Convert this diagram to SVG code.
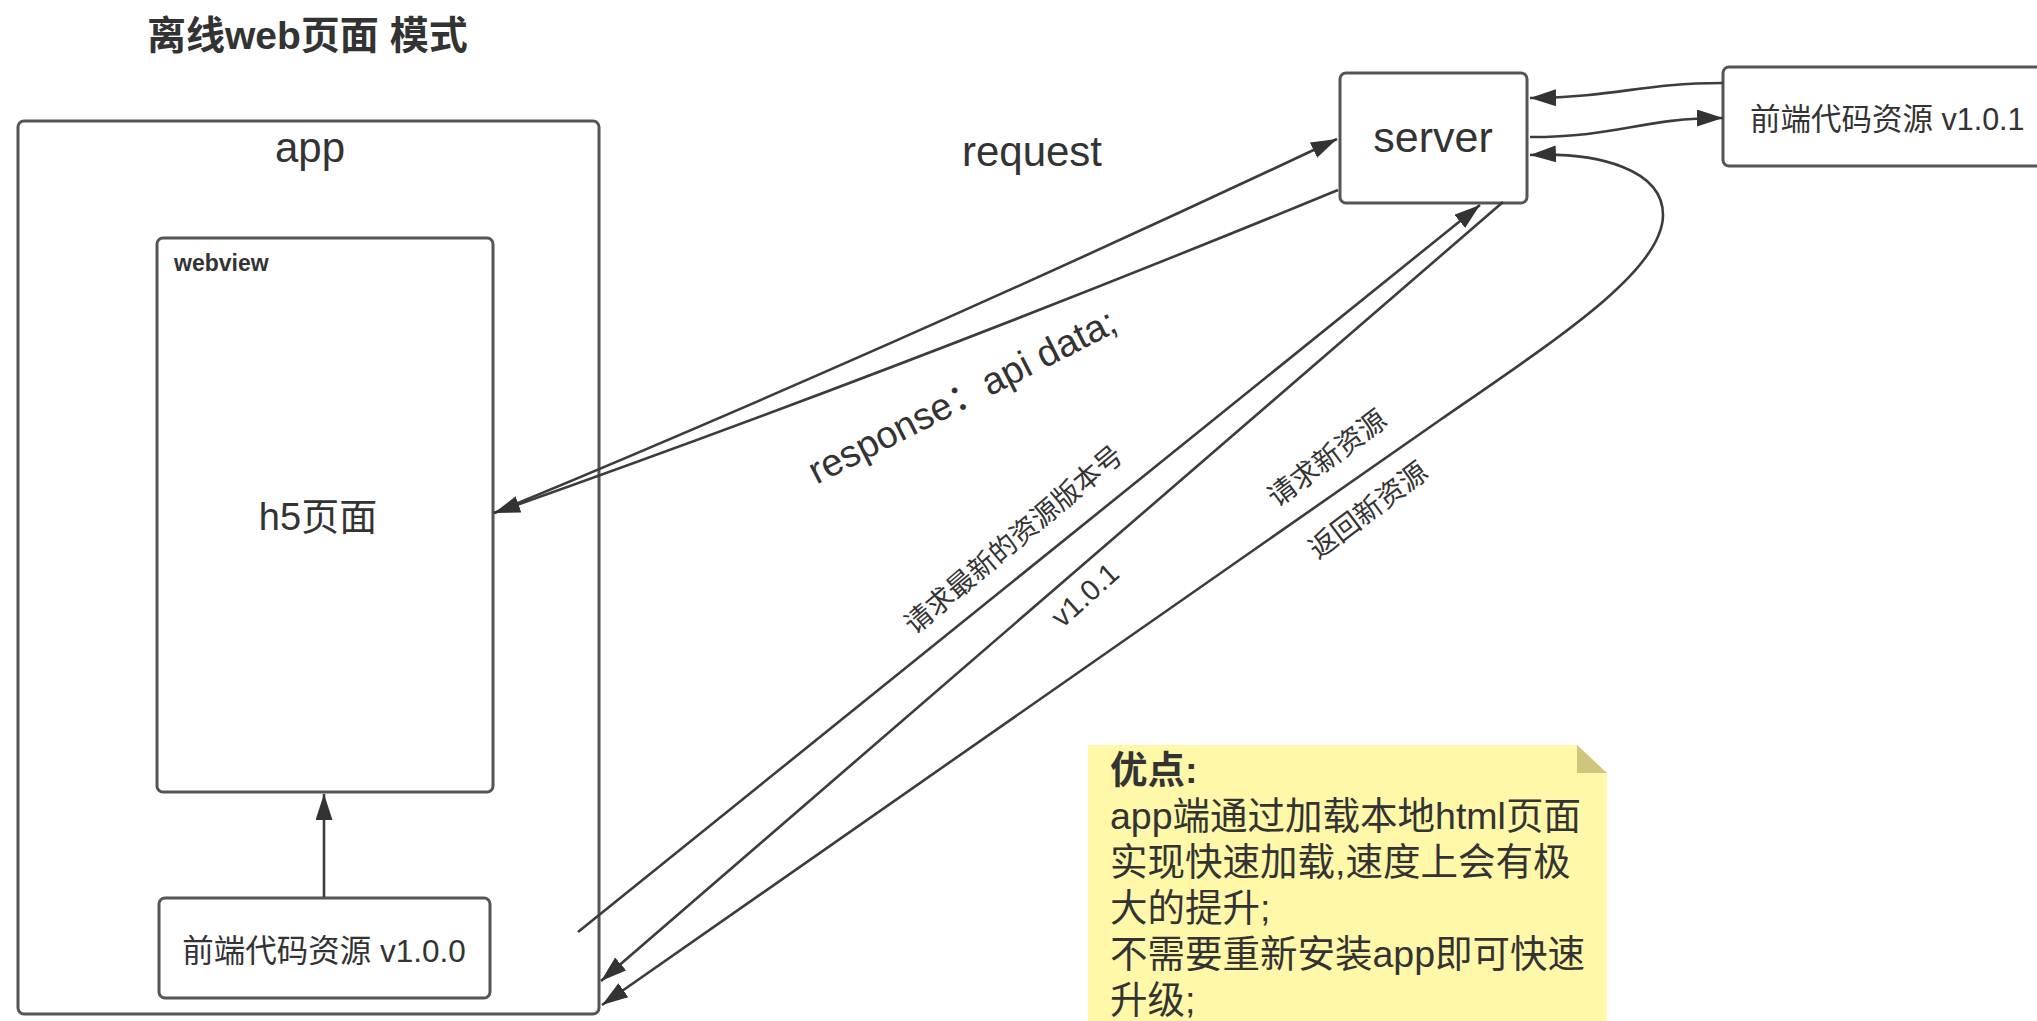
<svg xmlns="http://www.w3.org/2000/svg" width="2037" height="1021" viewBox="0 0 2037 1021">
<style>
  .box { fill: #ffffff; stroke: #555555; stroke-width: 3; }
  .t { font-family: "Liberation Sans", "Noto Sans CJK SC", sans-serif; fill: #333333; }
  .c { fill: none; stroke: #3c3c3c; stroke-width: 2.6; }
</style>
<defs>
  <marker id="arr" markerUnits="userSpaceOnUse" markerWidth="28" markerHeight="18" refX="26" refY="8.5" orient="auto">
    <path d="M0,0 L26,8.5 L0,17 z" fill="#333333"/>
  </marker>
  <marker id="arrS" markerUnits="userSpaceOnUse" markerWidth="28" markerHeight="18" refX="26" refY="8.5" orient="auto-start-reverse">
    <path d="M0,0 L26,8.5 L0,17 z" fill="#333333"/>
  </marker>
</defs>
<rect width="2037" height="1021" fill="#ffffff"/>

<g id="title">
  <text class="t" x="147" y="49" font-size="39" font-weight="bold">离线web页面 模式</text>
</g>

<g id="app">
  <rect class="box" x="18" y="121" width="581" height="893" rx="6"/>
  <text class="t" x="310" y="162" font-size="42" text-anchor="middle">app</text>
</g>

<g id="webview">
  <rect class="box" x="157" y="238" width="336" height="554" rx="6"/>
  <text class="t" x="174" y="271" font-size="23" font-weight="bold">webview</text>
  <text class="t" x="318" y="530" font-size="38" text-anchor="middle">h5页面</text>
</g>

<g id="local-res">
  <rect class="box" x="159" y="898" width="331" height="100" rx="6"/>
  <text class="t" x="324" y="962" font-size="31.5" text-anchor="middle">前端代码资源 v1.0.0</text>
</g>

<g id="server">
  <rect class="box" x="1340" y="73" width="187" height="130" rx="6"/>
  <text class="t" x="1433" y="152" font-size="43" text-anchor="middle">server</text>
</g>

<g id="remote-res">
  <rect class="box" x="1723" y="67" width="330" height="99" rx="6"/>
  <text class="t" x="1750" y="130" font-size="30.5">前端代码资源 v1.0.1</text>
</g>

<g id="note">
  <path d="M1088,745 L1577,745 L1607,773 L1607,1021 L1088,1021 z" fill="#fff8a9"/>
  <path d="M1577,745 L1577,773 L1607,773 z" fill="#cfc67e"/>
  <text class="t" font-size="37.5" fill="#2e2e2e">
    <tspan x="1110" y="783" font-weight="bold">优点:</tspan>
    <tspan x="1110" y="829">app端通过加载本地html页面</tspan>
    <tspan x="1110" y="875">实现快速加载,速度上会有极</tspan>
    <tspan x="1110" y="921">大的提升;</tspan>
    <tspan x="1110" y="967">不需要重新安装app即可快速</tspan>
    <tspan x="1110" y="1013">升级;</tspan>
  </text>
</g>

<g id="connectors">
  <line class="c" x1="324" y1="897" x2="324" y2="794" marker-end="url(#arr)"/>
  <path class="c" d="M494,513 Q900,345 1337,139" marker-end="url(#arr)"/>
  <path class="c" d="M1338,190 Q900,370 494,513" marker-end="url(#arr)"/>
  <path class="c" d="M1723,83 C1640,83 1620,97 1530,98" marker-end="url(#arr)"/>
  <path class="c" d="M1530,137 C1620,137 1640,118 1723,118" marker-end="url(#arr)"/>
  <line class="c" x1="578" y1="932" x2="1480" y2="205" marker-end="url(#arr)"/>
  <line class="c" x1="1503" y1="202" x2="601" y2="981" marker-end="url(#arr)"/>
  <path class="c" d="M602,1005 L1440,420 C1560,337 1663,270 1663,215 C1663,170 1600,152 1530,155" marker-start="url(#arrS)" marker-end="url(#arr)"/>
</g>

<g id="labels">
  <text class="t" x="1032" y="166" font-size="42" text-anchor="middle">request</text>
  <text class="t" font-size="38" text-anchor="middle" transform="translate(962,396) rotate(-27)" y="13">response：api data;</text>
  <text class="t" font-size="27.5" text-anchor="middle" transform="translate(1014,540) rotate(-40)" y="9">请求最新的资源版本号</text>
  <text class="t" font-size="29" text-anchor="middle" transform="translate(1085,595) rotate(-42)" y="10">v1.0.1</text>
  <text class="t" font-size="28" text-anchor="middle" transform="translate(1327,458) rotate(-37)" y="10">请求新资源</text>
  <text class="t" font-size="28" text-anchor="middle" transform="translate(1368,510) rotate(-37)" y="10">返回新资源</text>
</g>
</svg>
